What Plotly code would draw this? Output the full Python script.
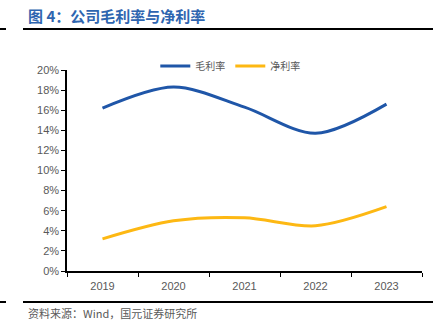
import plotly.graph_objects as go

years = ["2019", "2020", "2021", "2022", "2023"]
gross_margin = [16.2, 18.3, 16.3, 13.7, 16.6]
net_margin = [3.2, 5.0, 5.3, 4.5, 6.4]
y_ticks = list(range(0, 21, 2))

fig = go.Figure()
fig.add_trace(go.Scatter(
    x=years, y=gross_margin, name="毛利率", mode="lines",
    line=dict(color="#1F56A8", width=3, shape="spline", smoothing=0.9),
))
fig.add_trace(go.Scatter(
    x=years, y=net_margin, name="净利率", mode="lines",
    line=dict(color="#FDB813", width=3, shape="spline", smoothing=0.9),
))

axis_font = dict(family="Liberation Sans, Arial, sans-serif", size=11, color="#595959")

fig.update_layout(
    width=446, height=336,
    margin=dict(l=67, r=24, t=70, b=65),
    paper_bgcolor="white", plot_bgcolor="white",
    showlegend=True,
    legend=dict(
        orientation="h", x=0.46, xanchor="center", y=1.02, yanchor="middle",
        font=dict(family="Noto Sans CJK SC", size=10, color="#595959"),
        itemwidth=30, bgcolor="rgba(0,0,0,0)",
    ),
    xaxis=dict(
        type="category", range=[-0.5, 4.5], showgrid=False, showline=True,
        linecolor="#000000", linewidth=1.5,
        ticks="outside", tickson="boundaries", ticklen=4, tickcolor="#000000",
        tickfont=axis_font, ticklabelstandoff=4, fixedrange=True,
    ),
    yaxis=dict(
        range=[0, 20], tickvals=y_ticks, ticktext=[f"{v}%" for v in y_ticks],
        showgrid=False, showline=True, linecolor="#000000", linewidth=1.5,
        ticks="outside", ticklen=4, tickcolor="#000000", tickfont=axis_font,
        zeroline=False, fixedrange=True,
    ),
)

fig.add_annotation(
    xref="paper", yref="paper", x=-0.115, y=1.27, xanchor="left", yanchor="middle",
    text="<b>图 4：公司毛利率与净利率</b>", showarrow=False,
    font=dict(family="Noto Sans CJK SC", size=15, color="#2E65B0"),
)
fig.add_annotation(
    xref="paper", yref="paper", x=-0.115, y=-0.21, xanchor="left", yanchor="middle",
    text="资料来源：Wind，国元证券研究所", showarrow=False,
    font=dict(family="Noto Sans CJK SC", size=11, color="#595959"),
)

# horizontal rules above and below the chart
for ypx in (29, 302):
    fig.add_shape(type="line", xref="paper", yref="paper",
                  x0=(23 - 67) / 355, x1=(433 - 67) / 355,
                  y0=(271 - ypx) / 201, y1=(271 - ypx) / 201,
                  line=dict(color="#000000", width=2))
    fig.add_shape(type="line", xref="paper", yref="paper",
                  x0=(0 - 67) / 355, x1=(6 - 67) / 355,
                  y0=(271 - ypx) / 201, y1=(271 - ypx) / 201,
                  line=dict(color="#000000", width=2))

fig.write_html("out.html")
